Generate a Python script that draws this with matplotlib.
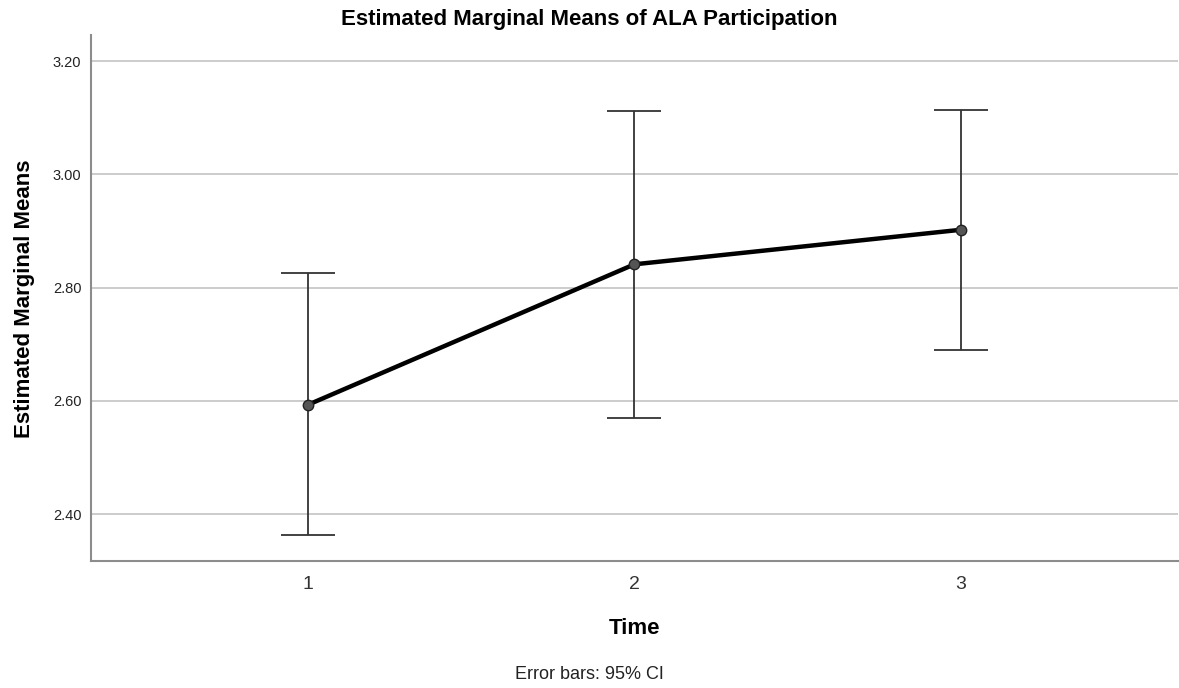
import matplotlib
matplotlib.use("Agg")
import matplotlib.pyplot as plt

plt.rcParams["font.family"] = ["Liberation Sans", "DejaVu Sans"]

# data
time_points = [1, 2, 3]
means = [2.593, 2.841, 2.902]
ci_low = [2.363, 2.570, 2.690]
ci_high = [2.825, 3.111, 3.114]
y_ticks = [2.40, 2.60, 2.80, 3.00, 3.20]

fig = plt.figure(figsize=(11.79, 6.88), dpi=100)
ax = fig.add_axes([0.0772, 0.1846, 0.9218, 0.7645])

err_lo = [m - lo for m, lo in zip(means, ci_low)]
err_hi = [hi - m for m, hi in zip(means, ci_high)]

ax.errorbar(time_points, means, yerr=[err_lo, err_hi], fmt="none",
            ecolor="#333333", elinewidth=1.3, capsize=19.5, capthick=1.3, zorder=3)
ax.plot(time_points, means, color="black", linewidth=3.2, zorder=4)
ax.plot(time_points, means, "o", markersize=7.5, markerfacecolor="#555555",
        markeredgecolor="#222222", markeredgewidth=1.0, zorder=5)

ax.set_xlim(0.335, 3.665)
ax.set_ylim(2.317, 3.246)
ax.set_xticks(time_points)
ax.set_xticklabels([str(t) for t in time_points], fontsize=14, color="#333333")
ax.set_yticks(y_ticks)
ax.set_yticklabels([f"{v:.2f}" for v in y_ticks], fontsize=10.5, color="#222222")
ax.tick_params(axis="both", length=0)
ax.tick_params(axis="x", pad=11)
ax.tick_params(axis="y", pad=7)

ax.grid(axis="y", color="#c4c4c4", linewidth=1.2)
ax.set_axisbelow(True)
for side in ["top", "right"]:
    ax.spines[side].set_visible(False)
for side in ["left", "bottom"]:
    ax.spines[side].set_color("#8c8c8c")
    ax.spines[side].set_linewidth(1.5)

fig.text(0.4996, 0.972, "Estimated Marginal Means of ALA Participation",
         ha="center", va="center", fontsize=16, fontweight="bold")
fig.text(0.0204, 0.566, "Estimated Marginal Means", rotation=90,
         ha="center", va="center", fontsize=16, fontweight="bold")
fig.text(0.538, 0.0858, "Time", ha="center", va="center", fontsize=16, fontweight="bold")
fig.text(0.4996, 0.0203, "Error bars: 95% CI", ha="center", va="center", fontsize=13,
         color="#222222")

fig.savefig("out.png", dpi=100, facecolor="white")
